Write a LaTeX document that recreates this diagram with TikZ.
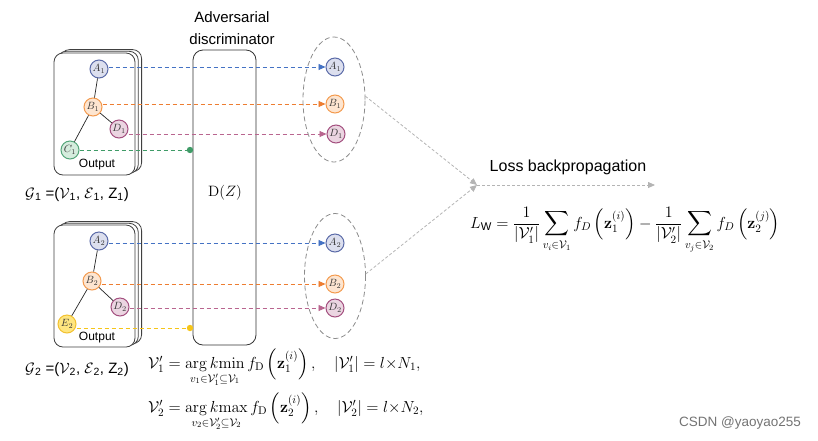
\documentclass[tikz,border=0pt]{standalone}
\usepackage{fix-cm}
\usepackage{amsmath}
\usepackage[no-math]{fontspec}
\setmainfont{Liberation Sans}
\usetikzlibrary{arrows.meta,shapes.geometric}
\definecolor{cA}{HTML}{5B6BA8}\definecolor{cAf}{HTML}{DCDFEE}\definecolor{cAl}{HTML}{4472C4}
\definecolor{cB}{HTML}{F39A4E}\definecolor{cBf}{HTML}{FDE5D0}\definecolor{cBl}{HTML}{ED7D31}
\definecolor{cD}{HTML}{A34F7F}\definecolor{cDf}{HTML}{EBD5E1}\definecolor{cDl}{HTML}{B9658F}
\definecolor{cC}{HTML}{55A67A}\definecolor{cCf}{HTML}{D5ECDD}\definecolor{cCl}{HTML}{3F9B67}
\definecolor{cE}{HTML}{F2C130}\definecolor{cEf}{HTML}{FFE680}\definecolor{cEl}{HTML}{F6C518}
\definecolor{gl}{HTML}{B4B4B4}
\begin{document}
\begin{tikzpicture}[x=1pt,y=-1pt,
  card/.style={draw=black!75, fill=white, rounded corners=9pt, line width=0.8pt},
  gn/.style={circle, minimum size=18pt, inner sep=0pt, line width=1pt, text=black!80, font=\fontsize{10.5}{11}\selectfont},
  na/.style={gn, draw=cA, fill=cAf},
  nb/.style={gn, draw=cB, fill=cBf},
  nd/.style={gn, draw=cD, fill=cDf},
  nc/.style={gn, draw=cC, fill=cCf},
  ne/.style={gn, draw=cE, fill=cEf},
  tedge/.style={line width=0.7pt, black!85},
  conn/.style={line width=0.9pt, dash pattern=on 4pt off 3pt, -{Triangle[length=7pt,width=6pt]}},
  dotconn/.style={line width=0.9pt, dash pattern=on 4pt off 3pt},
  grayl/.style={gl, line width=0.8pt, dash pattern=on 3pt off 2pt, -{Triangle[length=7pt,width=6pt]}},
  ell/.style={ellipse, draw=black!45, line width=0.8pt, dash pattern=on 5pt off 3pt, inner sep=0pt},
  lbl/.style={font=\fontsize{15}{17}\selectfont, anchor=base west, inner sep=0pt},
  eq/.style={font=\fontsize{16}{18}\selectfont, anchor=base west, inner sep=0pt},
]
\useasboundingbox (0,0) rectangle (818,440);
% cards
\foreach \s in {2,1,0} {
  \draw[card, shift={(\s*3.3,-\s*1.7)}] (54,53) rectangle (135,175);
  \draw[card, shift={(\s*3.3,-\s*1.7)}] (54,225) rectangle (135,347);
}
% graph 1
\node[na] (A1l) at (99,69) {$A_1$};
\node[nb] (B1l) at (93,107) {$B_1$};
\node[nd] (D1l) at (119,129) {$D_1$};
\node[nc] (C1l) at (70,150) {$C_1$};
\draw[tedge] (A1l) -- (B1l);
\draw[tedge] (B1l) -- (D1l);
\draw[tedge] (B1l) -- (C1l);
\node[font=\fontsize{12}{14}\selectfont] (out1) at (97,165) {Output};
% graph 2
\node[na] (A2l) at (99,241) {$A_2$};
\node[nb] (B2l) at (92,281) {$B_2$};
\node[nd] (D2l) at (120,307) {$D_2$};
\node[ne] (E2l) at (67,324) {$E_2$};
\draw[tedge] (A2l) -- (B2l);
\draw[tedge] (B2l) -- (D2l);
\draw[tedge] (B2l) -- (E2l);
\node[font=\fontsize{12}{14}\selectfont] (out2) at (97,338) {Output};
% labels
\node[lbl] (g1) at (25,198) {$\mathcal{G}$\textsubscript{1} =($\mathcal{V}$\textsubscript{1}, $\mathcal{E}$\textsubscript{1}, Z\textsubscript{1})};
\node[lbl] (g2) at (25,373) {$\mathcal{G}$\textsubscript{2} =($\mathcal{V}$\textsubscript{2}, $\mathcal{E}$\textsubscript{2}, Z\textsubscript{2})};
% discriminator
\node[draw=black!80, line width=0.8pt, rounded corners=10pt, minimum width=63pt, minimum height=295pt] (disc) at (224.5,197.5) {};
\node[font=\fontsize{15}{22}\selectfont, align=center] (title) at (232,28) {Adversarial\\discriminator};
\node[font=\fontsize{15}{17}\selectfont] (dz) at (225,193) {$\mathrm{D}(Z)$};
% right nodes
\node[ell, minimum width=62pt, minimum height=125pt] (e1) at (334,99.5) {};
\node[ell, minimum width=61pt, minimum height=125pt] (e2) at (335,276) {};
\node[na] (A1r) at (335,67) {$A_1$};
\node[nb] (B1r) at (335,104) {$B_1$};
\node[nd] (D1r) at (336,134) {$D_1$};
\node[na] (A2r) at (335,243) {$A_2$};
\node[nb] (B2r) at (335,284) {$B_2$};
\node[nd] (D2r) at (335,308) {$D_2$};
% connectors
\draw[conn, cAl] (A1l.east |- A1r) -- (A1r);
\draw[conn, cBl] (B1l.east |- B1r) -- (B1r);
\draw[conn, cDl] (D1l.east |- D1r) -- (D1r);
\coordinate (dot1) at (190,150);
\draw[dotconn, cCl] (C1l.east |- dot1) -- (dot1);
\fill[cCl] (dot1) circle (3.2pt);
\draw[conn, cAl] (A2l.east |- A2r) -- (A2r);
\draw[conn, cBl] (B2l.east |- B2r) -- (B2r);
\draw[conn, cDl] (D2l.east |- D2r) -- (D2r);
\coordinate (dot2) at (190,328);
\draw[dotconn, cEl] (E2l.east |- dot2) -- (dot2);
\fill[cEl] (dot2) circle (3.2pt);
% loss
\coordinate (conv) at (477,185);
\coordinate (lend) at (655,185);
\draw[grayl] (e1.6) -- (conv);
\draw[grayl] (e2.4) -- (conv);
\draw[grayl] (conv) -- (lend);
\node[font=\fontsize{16}{18}\selectfont] (lbp) at (568,167) {Loss backpropagation};
\node[eq] (lw) at (470,228) {$L_{\text{W}} = \dfrac{1}{|\mathcal{V}_1'|}\displaystyle\sum_{v_i\in\mathcal{V}_1} f_D\left(\mathbf{z}_1^{(i)}\right) - \dfrac{1}{|\mathcal{V}_2'|}\sum_{v_j\in\mathcal{V}_2} f_D\left(\mathbf{z}_2^{(j)}\right)$};
\node[eq] (v1) at (148,368) {$\mathcal{V}_1' = \mathop{\mathrm{arg}\,k\mathrm{min}}\limits_{v_1\in\mathcal{V}_1'\subseteq\mathcal{V}_1} f_{\mathrm{D}}\left(\mathbf{z}_1^{(i)}\right),\quad |\mathcal{V}_1'| = l{\times}N_1,$};
\node[eq] (v2) at (148,412) {$\mathcal{V}_2' = \mathop{\mathrm{arg}\,k\mathrm{max}}\limits_{v_2\in\mathcal{V}_2'\subseteq\mathcal{V}_2} f_{\mathrm{D}}\left(\mathbf{z}_2^{(i)}\right),\quad |\mathcal{V}_2'| = l{\times}N_2,$};
\node[font=\fontsize{13.5}{15}\selectfont, text=black!55] (wm) at (740,423) {CSDN @yaoyao255};
\end{tikzpicture}
\end{document}
